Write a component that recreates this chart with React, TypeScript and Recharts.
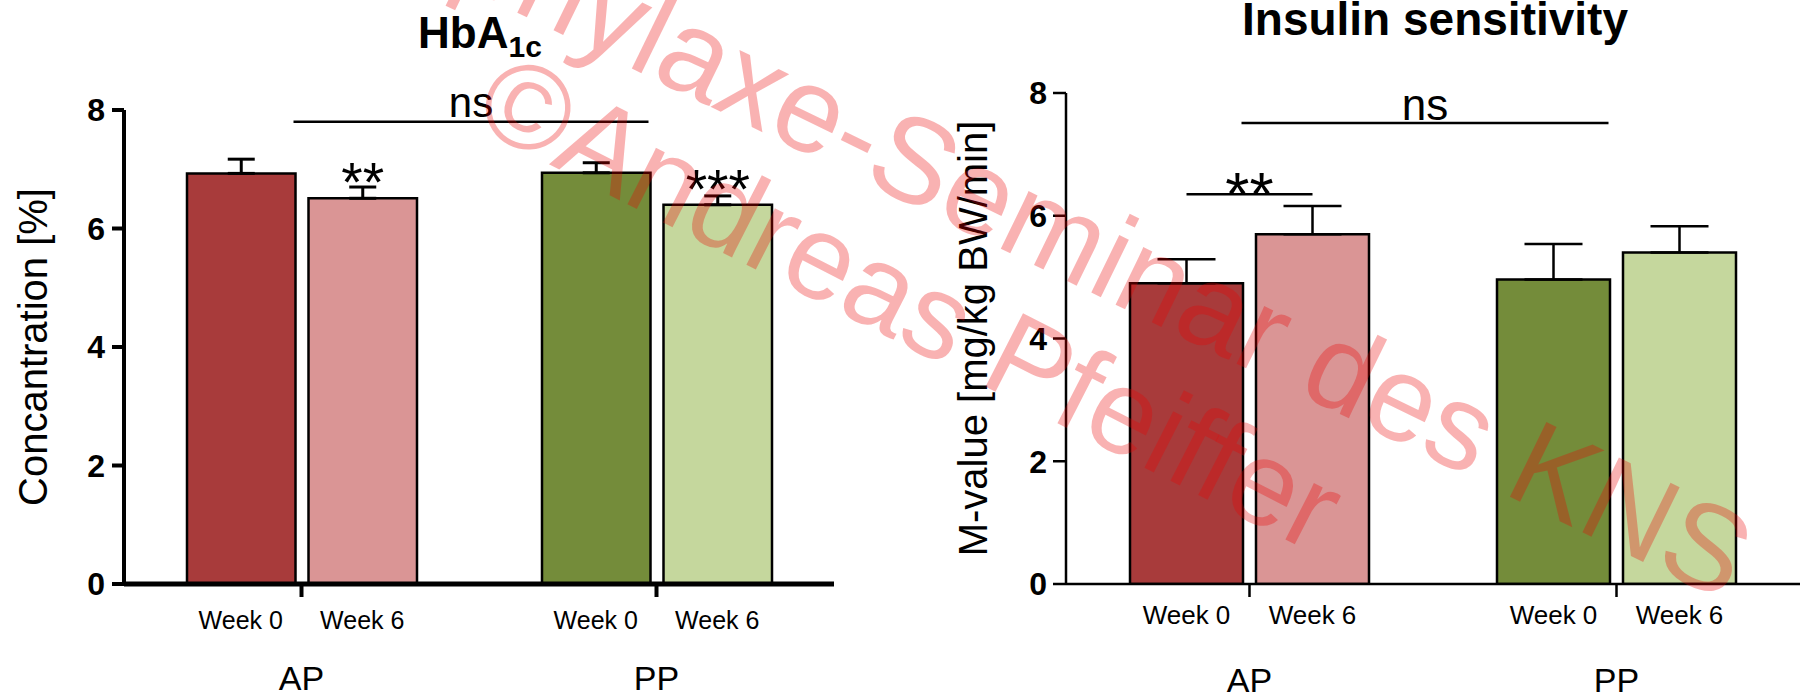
import React from 'react';
import { BarChart, Bar, XAxis, YAxis, ErrorBar, Cell, LabelList, ReferenceLine } from 'recharts';

const FONT = '"Liberation Sans", Arial, Helvetica, sans-serif';

// ---- data ----
const groups = ['AP', 'PP'];
const weekLabels = ['Week 0', 'Week 6'];
const yTicks = [0, 2, 4, 6, 8];

const hbaWeek0 = [6.93, 6.94];
const hbaWeek0Err = [0.24, 0.17];
const hbaWeek6 = [6.51, 6.4];
const hbaWeek6Err = [0.19, 0.15];
const hbaWeek6Sig = ['**', '***'];

const insWeek0 = [4.9, 4.96];
const insWeek0Err = [0.39, 0.58];
const insWeek6 = [5.7, 5.4];
const insWeek6Err = [0.46, 0.43];
const insWeek6Sig = ['', ''];

const week0Colors = ['#A83B3B', '#748C3A'];
const week6Colors = ['#DA9595', '#C5D79D'];

// significance brackets: side -1 = Week 0 bar, 0 = group centre, +1 = Week 6 bar
type Bracket = { from: string; fromSide: number; to: string; toSide: number; y: number; text: string };
const hbaBrackets: Bracket[] = [{ from: 'AP', fromSide: 0, to: 'PP', toSide: 0, y: 7.8, text: 'ns' }];
const insBrackets: Bracket[] = [
  { from: 'AP', fromSide: 0, to: 'PP', toSide: 0, y: 7.51, text: 'ns' },
  { from: 'AP', fromSide: -1, to: 'AP', toSide: 1, y: 6.35, text: '**' },
];

function buildRows(w0: number[], e0: number[], w6: number[], e6: number[], sig: string[]) {
  return groups.map((g, i) => ({
    group: g,
    w0: w0[i],
    e0: [0, e0[i]],
    w6: w6[i],
    e6: [0, e6[i]],
    sig: sig[i],
  }));
}

const hbaRows = buildRows(hbaWeek0, hbaWeek0Err, hbaWeek6, hbaWeek6Err, hbaWeek6Sig);
const insRows = buildRows(insWeek0, insWeek0Err, insWeek6, insWeek6Err, insWeek6Sig);

type PanelProps = {
  rows: any[];
  left: number;
  marginTop: number;
  marginLeft: number;
  marginRight: number;
  barSize: number;
  barGap: number;
  axisW: number;
  xAxisW: number;
  tickW: number;
  yTickSize: number;
  yTickMargin: number;
  weekFont: number;
  groupFont: number;
  weekDy: number;
  groupDy: number;
  yLabel: string;
  yLabelOffset: number;
  capHalf: number;
  errW: number;
  barStroke: number;
  brackets: Bracket[];
  nsFont: number;
  nsDy: number;
  nsShift: number;
  starFont: number;
  starDy: number;
  barStarDy: number;
  lineW: number;
};

function Panel(p: PanelProps) {
  const half = (p.barSize + p.barGap) / 2;
  const GroupTick = (tp: any) => {
    const { x, y, payload } = tp;
    return (
      <g>
        <text x={x - half} y={y + p.weekDy} textAnchor="middle" fontSize={p.weekFont} fontFamily={FONT} fill="#000">
          {weekLabels[0]}
        </text>
        <text x={x + half} y={y + p.weekDy} textAnchor="middle" fontSize={p.weekFont} fontFamily={FONT} fill="#000">
          {weekLabels[1]}
        </text>
        <text x={x} y={y + p.groupDy} textAnchor="middle" fontSize={p.groupFont} fontFamily={FONT} fill="#000">
          {payload.value}
        </text>
      </g>
    );
  };
  const yLabelContent = (lp: any) => {
    const vb = lp.viewBox || {};
    const cx = vb.x + vb.width - p.yLabelOffset;
    const cy = vb.y + vb.height / 2;
    return (
      <text
        transform={`translate(${cx},${cy}) rotate(-90)`}
        textAnchor="middle"
        fontSize={40}
        fontFamily={FONT}
        fill="#000"
      >
        {p.yLabel}
      </text>
    );
  };
  const starContent = (lp: any) => {
    if (!lp.value) return null;
    return (
      <text
        x={lp.x + lp.width / 2}
        y={lp.y + p.barStarDy}
        textAnchor="middle"
        fontSize={p.starFont}
        fontFamily={FONT}
        fill="#000"
      >
        {lp.value}
      </text>
    );
  };
  const bracketShape = (b: Bracket) => (sp: any) => {
    const isNs = b.text === 'ns';
    const shift = isNs ? p.nsShift : 0;
    const x1 = sp.x1 + b.fromSide * half + shift;
    const x2 = sp.x2 + b.toSide * half + shift;
    const y = sp.y1;
    return (
      <g>
        <line x1={x1} y1={y} x2={x2} y2={y} stroke="#000" strokeWidth={p.lineW} />
        <text
          x={(x1 + x2) / 2}
          y={y + (isNs ? p.nsDy : p.starDy)}
          textAnchor="middle"
          fontSize={isNs ? p.nsFont : p.starFont}
          fontFamily={FONT}
          fill="#000"
        >
          {b.text}
        </text>
      </g>
    );
  };
  return (
    <div style={{ position: 'absolute', left: p.left, top: 0, width: 900, height: 698 }}>
      <BarChart
        width={900}
        height={698}
        data={p.rows}
        barSize={p.barSize}
        barGap={p.barGap}
        margin={{ top: p.marginTop, right: p.marginRight, bottom: 14, left: p.marginLeft }}
      >
        <XAxis
          dataKey="group"
          type="category"
          height={100}
          tickSize={13}
          tickMargin={0}
          interval={0}
          axisLine={{ stroke: '#000', strokeWidth: p.xAxisW }}
          tickLine={{ stroke: '#000', strokeWidth: p.tickW }}
          tick={GroupTick}
        />
        <YAxis
          type="number"
          domain={[0, 8]}
          ticks={yTicks}
          interval={0}
          width={60}
          tickSize={p.yTickSize}
          tickMargin={p.yTickMargin}
          axisLine={{ stroke: '#000', strokeWidth: p.axisW }}
          tickLine={{ stroke: '#000', strokeWidth: p.tickW }}
          tick={{ fill: '#000', fontSize: 32, fontWeight: 700, fontFamily: FONT }}
          label={yLabelContent}
          allowDataOverflow
        />
        <Bar dataKey="w0" stroke="#000" strokeWidth={p.barStroke} isAnimationActive={false}>
          {p.rows.map((r, i) => (
            <Cell key={r.group} fill={week0Colors[i]} />
          ))}
          <ErrorBar dataKey="e0" width={p.capHalf} stroke="#000" strokeWidth={p.errW} direction="y" isAnimationActive={false} />
        </Bar>
        <Bar dataKey="w6" stroke="#000" strokeWidth={p.barStroke} isAnimationActive={false}>
          {p.rows.map((r, i) => (
            <Cell key={r.group} fill={week6Colors[i]} />
          ))}
          <ErrorBar dataKey="e6" width={p.capHalf} stroke="#000" strokeWidth={p.errW} direction="y" isAnimationActive={false} />
          <LabelList dataKey="sig" content={starContent} />
        </Bar>
        {p.brackets.map((b, i) => (
          <ReferenceLine
            key={i}
            segment={[
              { x: b.from, y: b.y },
              { x: b.to, y: b.y },
            ]}
            stroke="#000"
            strokeWidth={p.lineW}
            ifOverflow="visible"
            shape={bracketShape(b)}
          />
        ))}
      </BarChart>
    </div>
  );
}

export default function App() {
  return (
    <div
      style={{
        position: 'fixed',
        left: 0,
        top: 0,
        width: 1800,
        height: 698,
        overflow: 'hidden',
        background: '#fff',
        fontFamily: FONT,
      }}
    >
      <Panel
        rows={hbaRows}
        left={0}
        marginTop={110}
        marginLeft={64}
        marginRight={66}
        barSize={108.5}
        barGap={13}
        axisW={4}
        xAxisW={5}
        tickW={4}
        yTickSize={12}
        yTickMargin={7}
        weekFont={25}
        groupFont={34}
        weekDy={32}
        groupDy={93}
        yLabel="Concantration [%]"
        yLabelOffset={77}
        capHalf={13.5}
        errW={3}
        barStroke={2.5}
        brackets={hbaBrackets}
        nsFont={42}
        nsDy={-5}
        nsShift={-8}
        starFont={55}
        starDy={21}
        barStarDy={3}
        lineW={2.5}
      />
      <Panel
        rows={insRows}
        left={900}
        marginTop={93}
        marginLeft={106}
        marginRight={0}
        barSize={113}
        barGap={13}
        axisW={2.5}
        xAxisW={2.5}
        tickW={2.5}
        yTickSize={13}
        yTickMargin={6}
        weekFont={26}
        groupFont={34}
        weekDy={27}
        groupDy={95}
        yLabel="M-value [mg/kg BW/min]"
        yLabelOffset={79}
        capHalf={29}
        errW={2.5}
        barStroke={2.5}
        brackets={insBrackets}
        nsFont={44}
        nsDy={-3}
        nsShift={-8}
        starFont={62}
        starDy={21}
        barStarDy={3}
        lineW={2.5}
      />
      <svg
        width={1800}
        height={698}
        style={{ position: 'absolute', left: 0, top: 0, pointerEvents: 'none' }}
      >
        <text x={480} y={48} textAnchor="middle" fontSize={44} fontWeight={700} fontFamily={FONT} fill="#000">
          HbA
          <tspan fontSize={30} dy={9}>
            1c
          </tspan>
        </text>
        <text x={1435} y={35} textAnchor="middle" fontSize={46} fontWeight={700} fontFamily={FONT} fill="#000">
          Insulin sensitivity
        </text>
        <g fill="rgb(235,0,0)" fillOpacity={0.3} fontFamily={FONT}>
          <text fontSize={121} transform="translate(280,-103) rotate(26)">
            Prophylaxe-Seminar des KNS
          </text>
          <text fontSize={120} transform="translate(470,124) rotate(27)">
            ©Andreas Pfeiffer
          </text>
        </g>
      </svg>
    </div>
  );
}
